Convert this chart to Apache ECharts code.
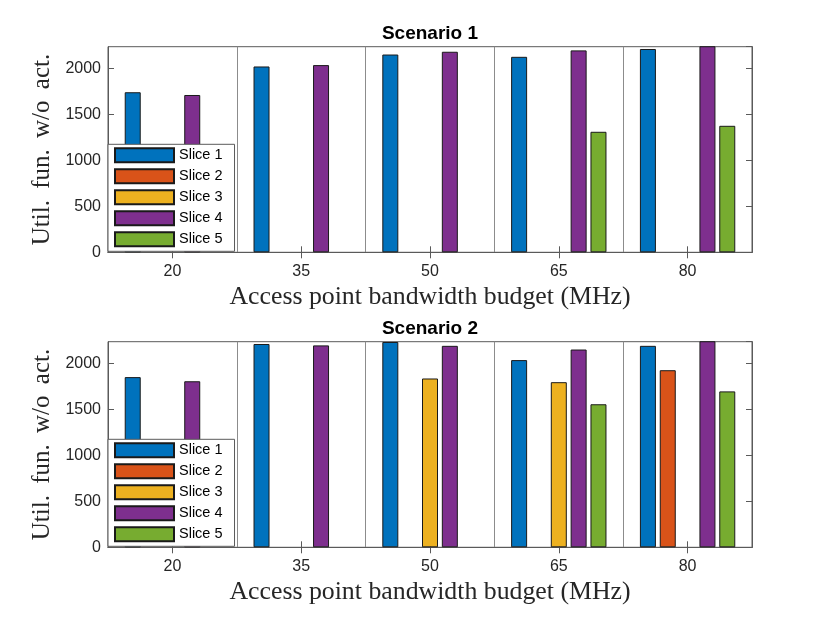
<!DOCTYPE html>
<html>
<head>
<meta charset="utf-8">
<script src="https://cdn.jsdelivr.net/npm/echarts@6/dist/echarts.min.js"></script>
<style>html,body{margin:0;padding:0;background:#fff;}#chart{width:830px;height:623px;}</style>
</head>
<body>
<div id="chart"></div>
<script>
const categories = ['20', '35', '50', '65', '80'];
const sliceNames = ['Slice 1', 'Slice 2', 'Slice 3', 'Slice 4', 'Slice 5'];
const scenarioTitles = ['Scenario 1', 'Scenario 2'];

// Scenario 1
const s1Slice1 = [1740, 2020, 2150, 2125, 2210];
const s1Slice2 = [0, 0, 0, 0, 0];
const s1Slice3 = [0, 0, 0, 0, 0];
const s1Slice4 = [1710, 2035, 2180, 2195, 2240];
const s1Slice5 = [0, 0, 0, 1310, 1375];

// Scenario 2
const s2Slice1 = [1850, 2210, 2232, 2035, 2190];
const s2Slice2 = [0, 0, 0, 0, 1925];
const s2Slice3 = [0, 0, 1835, 1795, 0];
const s2Slice4 = [1805, 2195, 2190, 2150, 2240];
const s2Slice5 = [0, 0, 0, 1555, 1695];

const yTickStep = 500;
const yMax = 2235;

const colors = ['#0072BD', '#D95319', '#EDB120', '#7E2F8E', '#77AC30'];
const scenarioData = [
  [s1Slice1, s1Slice2, s1Slice3, s1Slice4, s1Slice5],
  [s2Slice1, s2Slice2, s2Slice3, s2Slice4, s2Slice5]
];

const gridTops = [46.7, 341.7];
const gridH = 205.6;
const frameColor = '#5a5a5a';
const textColor = '#262626';

const option = {
  animation: false,
  backgroundColor: '#ffffff',
  title: scenarioTitles.map((t, i) => ({
    text: t, left: 425, textAlign: 'center', top: gridTops[i] - 27,
    textStyle: {fontFamily: 'Liberation Sans', fontSize: 19, fontWeight: 'bold', color: '#000'}
  })),
  grid: gridTops.map(t => ({left: 108, width: 644, top: t, height: gridH, show: true, borderColor: frameColor, borderWidth: 1, backgroundColor: 'transparent'})),
  legend: gridTops.map((t, i) => ({
    orient: 'vertical', left: 108, top: t + 97.6,
    data: sliceNames, selectedMode: false,
    itemWidth: 59, itemHeight: 14, itemGap: 5,
    padding: [3, 12, 4, 6],
    backgroundColor: '#fff', borderColor: frameColor, borderWidth: 1,
    textStyle: {fontFamily: 'Liberation Sans', fontSize: 14.5, color: '#000'},
    icon: 'rect'
  })),
  xAxis: [],
  yAxis: [],
  series: []
};

for (let g = 0; g < 2; g++) {
  option.xAxis.push({
    type: 'category', gridIndex: g, data: categories, position: 'bottom',
    axisLine: {show: true, lineStyle: {color: frameColor, width: 1}},
    axisTick: {show: true, inside: true, length: 6, alignWithLabel: true, lineStyle: {color: frameColor}},
    axisLabel: {fontFamily: 'Liberation Sans', fontSize: 16, color: textColor, margin: 11},
    splitLine: {show: true, lineStyle: {color: '#8c8c8c', width: 1}},
    name: 'Access point bandwidth budget (MHz)', nameLocation: 'middle', nameGap: 32,
    nameTextStyle: {fontFamily: 'Liberation Serif', fontSize: 25.8, color: textColor}
  });
  option.xAxis.push({
    type: 'category', gridIndex: g, data: categories, position: 'top',
    axisLine: {show: true, lineStyle: {color: frameColor, width: 1}},
    axisTick: {show: true, inside: true, length: 6, alignWithLabel: true, lineStyle: {color: frameColor}},
    axisLabel: {show: false}, splitLine: {show: false}
  });
  option.yAxis.push({
    type: 'value', gridIndex: g, min: 0, max: yMax, interval: yTickStep, position: 'left',
    axisLine: {show: true, lineStyle: {color: frameColor, width: 1}},
    axisTick: {show: true, inside: true, length: 6, lineStyle: {color: frameColor}},
    axisLabel: {fontFamily: 'Liberation Sans', fontSize: 16, color: textColor, margin: 7, showMaxLabel: false,
      formatter: v => String(v)},
    splitLine: {show: false},
    name: 'Util. \u2009fun. \u2009w/o \u2009act.', nameLocation: 'middle', nameGap: 43, nameRotate: 90,
    nameTextStyle: {fontFamily: 'Liberation Serif', fontSize: 25, color: textColor}
  });
  option.yAxis.push({
    type: 'value', gridIndex: g, min: 0, max: yMax, interval: yTickStep, position: 'right',
    axisLine: {show: true, lineStyle: {color: frameColor, width: 1}},
    axisTick: {show: true, inside: true, length: 6, lineStyle: {color: frameColor}},
    axisLabel: {show: false}, splitLine: {show: false}
  });
  for (let s = 0; s < 5; s++) {
    option.series.push({
      type: 'bar', name: sliceNames[s], xAxisIndex: g * 2, yAxisIndex: g * 2,
      data: scenarioData[g][s].map(v => v === 0 ? {value: 0, itemStyle: {borderWidth: 0}} : v),
      barWidth: 16, barGap: '24%',
      itemStyle: {color: colors[s], borderColor: '#1a1a1a', borderWidth: 1},
      emphasis: {disabled: true}
    });
  }
}

const chart = echarts.init(document.getElementById('chart'), null, {renderer: 'canvas'});
chart.setOption(option);
</script>
</body>
</html>
